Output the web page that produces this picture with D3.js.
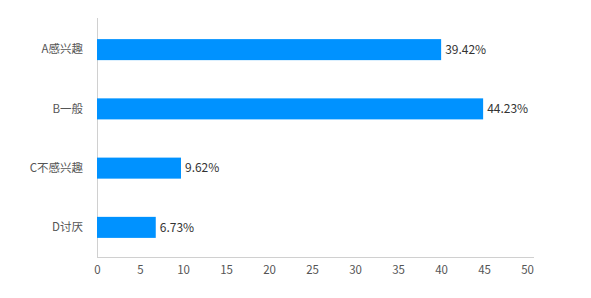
<!DOCTYPE html>
<html>
<head>
<meta charset="utf-8">
<script src="https://cdn.jsdelivr.net/npm/d3@7"></script>
<style>
  html, body { margin: 0; padding: 0; background: #fff; }
  svg { display: block; }
  text { font-family: "Noto Sans CJK SC", "Microsoft YaHei", sans-serif; }
</style>
</head>
<body>
<svg id="chart" width="591" height="298"></svg>
<script>
const categories = ["A感兴趣", "B一般", "C不感兴趣", "D讨厌"];
const values = [39.42, 44.23, 9.62, 6.73];
const valueLabels = ["39.42%", "44.23%", "9.62%", "6.73%"];
const tickValues = [0, 5, 10, 15, 20, 25, 30, 35, 40, 45, 50];

(function () {
const svg = d3.select("#chart");
const mLeft = 97, mRight = 533.5, mTop = 18, mBottom = 257;

const x = d3.scaleLinear().domain([0, 50]).range([mLeft, mRight]);
const xLabel = d3.scaleLinear().domain([0, 50]).range([mLeft, 527]);
const y = d3.scaleBand().domain(categories).range([20, mBottom])
  .paddingInner(0.645).paddingOuter(0.3225);

// axis lines
svg.append("line").attr("x1", mLeft).attr("x2", mLeft).attr("y1", mTop).attr("y2", mBottom)
  .attr("stroke", "#d0d0d0").attr("stroke-width", 1).attr("shape-rendering", "crispEdges");
svg.append("line").attr("x1", mLeft).attr("x2", mRight).attr("y1", mBottom).attr("y2", mBottom)
  .attr("stroke", "#d0d0d0").attr("stroke-width", 1).attr("shape-rendering", "crispEdges");

// x axis tick labels
const xAxis = d3.axisBottom(xLabel).tickValues(tickValues).tickSize(0).tickPadding(8)
  .tickFormat(d3.format("d"));
const gx = svg.append("g").attr("transform", `translate(0,${mBottom + 1})`).call(xAxis);
gx.select(".domain").remove();
gx.selectAll("text").attr("fill", "#555").attr("font-size", 11.5)
  .style("font-family", "'Noto Sans CJK SC', sans-serif");

// bars
svg.selectAll("rect.bar").data(values).enter().append("rect")
  .attr("class", "bar")
  .attr("x", x(0))
  .attr("y", (d, i) => y(categories[i]))
  .attr("width", d => x(d) - x(0))
  .attr("height", y.bandwidth())
  .attr("fill", "#0092ff");

// category labels
const yAxis = d3.axisLeft(y).tickSize(0).tickPadding(14);
const gy = svg.append("g").attr("transform", `translate(${mLeft},0)`).call(yAxis);
gy.select(".domain").remove();
gy.selectAll("text").attr("fill", "#555").attr("font-size", 11.5)
  .style("font-family", "'Noto Sans CJK SC', sans-serif");

// value labels
svg.selectAll("text.val").data(values).enter().append("text")
  .attr("class", "val")
  .attr("x", d => x(d) + 4)
  .attr("y", (d, i) => y(categories[i]) + y.bandwidth() / 2)
  .attr("dy", "0.35em")
  .attr("fill", "#333")
  .attr("font-size", 12)
  .text((d, i) => valueLabels[i]);
})();
</script>
</body>
</html>
